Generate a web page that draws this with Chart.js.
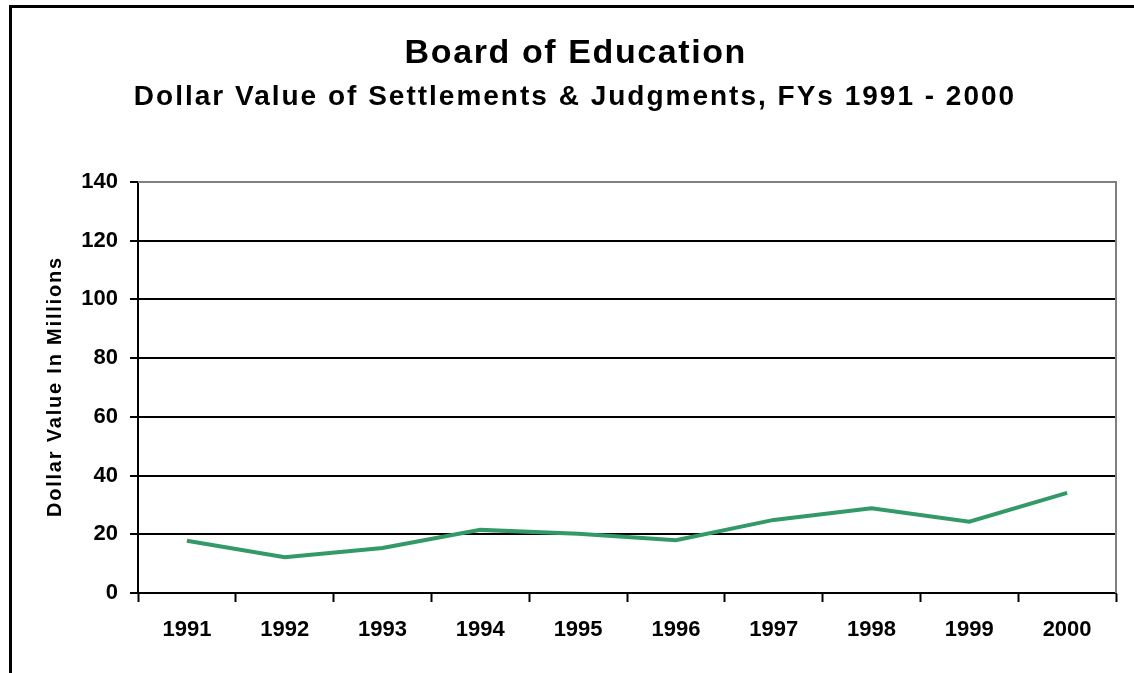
<!DOCTYPE html>
<html>
<head>
<meta charset="utf-8">
<script src="https://cdn.jsdelivr.net/npm/chart.js@4.4.1/dist/chart.umd.min.js"></script>
<style>
  body { margin: 0; background: #fff; }
  #wrap { position: relative; width: 1134px; height: 673px; overflow: hidden; }
  #frame {
    position: absolute; left: 9px; top: 5px; width: 1200px; height: 800px;
    border-left: 3px solid #000; border-top: 3px solid #000;
  }
  #myChart { position: absolute; left: 0; top: 0; }
</style>
</head>
<body>
<div id="wrap">
  <div id="frame"></div>
  <canvas id="myChart" width="1134" height="673"></canvas>
</div>
<script>
// Anos fiscais e valores (milhões de dólares)
const anos = ['1991', '1992', '1993', '1994', '1995', '1996', '1997', '1998', '1999', '2000'];
const valores = [17.8, 12.2, 15.3, 21.5, 20.2, 18.0, 24.9, 28.9, 24.3, 34.1];
const eixoY = { min: 0, max: 140, passo: 20 };

const titulo = 'Board of Education';
const subtitulo = 'Dollar Value of Settlements & Judgments, FYs 1991 - 2000';
const tituloY = 'Dollar Value In Millions';

const fonte = '"Liberation Sans", Arial, sans-serif';

// Borda cinza do topo e da direita da área do gráfico
const bordaArea = {
    id: 'bordaArea',
    beforeDatasetsDraw(chart) {
        const { ctx, chartArea: a } = chart;
        ctx.save();
        ctx.strokeStyle = '#808080';
        ctx.lineWidth = 2;
        ctx.beginPath();
        ctx.moveTo(a.left, a.top);
        ctx.lineTo(a.right, a.top);
        ctx.lineTo(a.right, a.bottom);
        ctx.stroke();
        ctx.restore();
    }
};

// Títulos com espaçamento entre letras (o plugin padrão não aceita letterSpacing)
function textoEspacado(ctx, txt, x, y, tam, esp, rot) {
    ctx.save();
    ctx.translate(x, y);
    if (rot) ctx.rotate(rot);
    ctx.font = 'bold ' + tam + 'px ' + fonte;
    ctx.fillStyle = '#000';
    ctx.textAlign = 'center';
    ctx.textBaseline = 'alphabetic';
    ctx.letterSpacing = esp + 'px';
    ctx.fillText(txt, esp / 2, 0);
    ctx.restore();
}

const titulos = {
    id: 'titulos',
    afterDraw(chart) {
        const ctx = chart.ctx;
        const meioY = (chart.chartArea.top + chart.chartArea.bottom) / 2;
        textoEspacado(ctx, titulo, 575, 63, 34, 1.6);
        textoEspacado(ctx, subtitulo, 574, 105, 28, 2);
        textoEspacado(ctx, tituloY, 61, meioY, 20, 1.8, -Math.PI / 2);
    }
};

const ctx = document.getElementById('myChart').getContext('2d');
const myChart = new Chart(ctx, {
    type: 'line',
    data: {
        labels: anos,
        datasets: [{
            label: 'Dollar Value',
            data: valores,
            borderColor: '#339966',
            borderWidth: 4,
            pointRadius: 0,
            tension: 0,
            fill: false
        }]
    },
    options: {
        responsive: false,
        animation: false,
        devicePixelRatio: 1,
        layout: {
            padding: { top: 182, right: 18, bottom: 0, left: 0 }
        },
        plugins: {
            legend: { display: false },
            tooltip: { enabled: false }
        },
        scales: {
            x: {
                offset: true,
                afterFit(scale) { scale.height = 80; },
                border: { color: '#000', width: 2 },
                grid: {
                    offset: true,
                    drawOnChartArea: false,
                    tickLength: 9,
                    tickColor: '#000',
                    tickWidth: 2
                },
                ticks: {
                    color: '#000',
                    padding: 15,
                    maxRotation: 0,
                    font: { family: fonte, size: 22, weight: 'bold' }
                }
            },
            y: {
                min: eixoY.min,
                max: eixoY.max,
                afterFit(scale) { scale.width = 138; },
                border: { color: '#000', width: 2 },
                grid: {
                    color: (c) => c.tick && c.tick.value === eixoY.max ? 'rgba(0,0,0,0)' : '#000',
                    lineWidth: 2,
                    tickLength: 8,
                    tickColor: '#000',
                    tickWidth: 2
                },
                ticks: {
                    stepSize: eixoY.passo,
                    color: '#000',
                    padding: 12,
                    font: { family: fonte, size: 22, weight: 'bold' }
                }
            }
        }
    },
    plugins: [bordaArea, titulos]
});
</script>
</body>
</html>
